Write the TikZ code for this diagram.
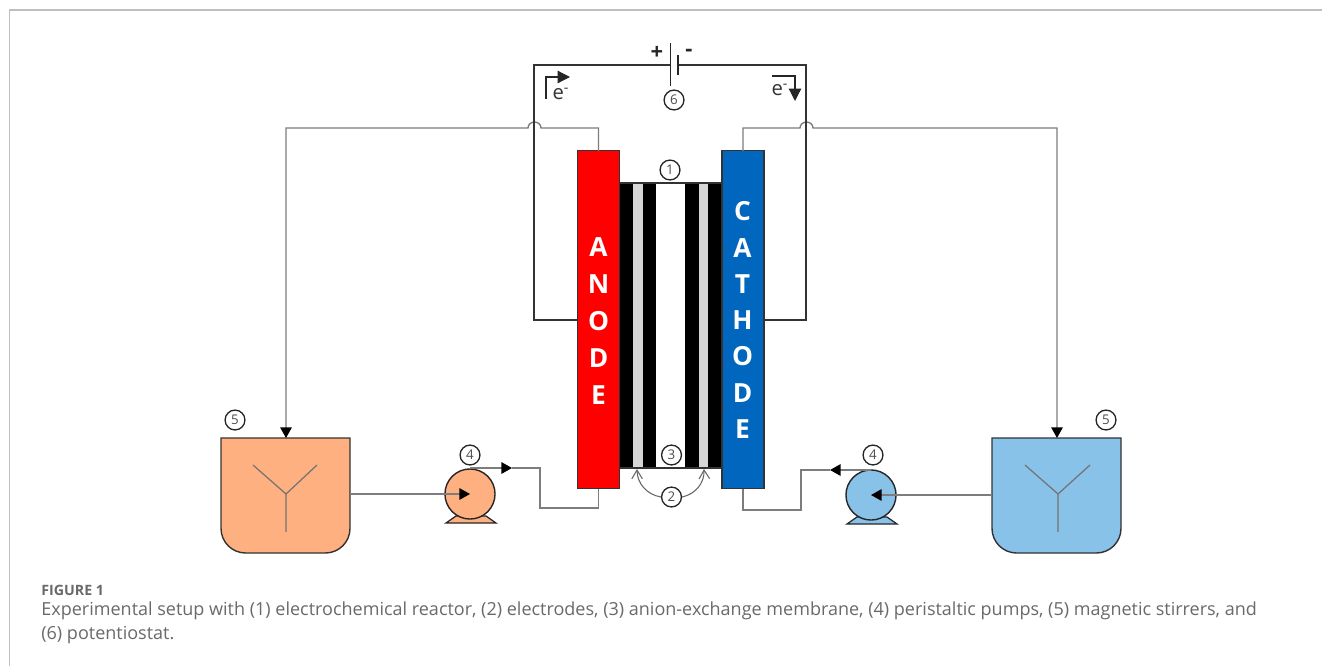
\documentclass[tikz,border=0pt]{standalone}
\usepackage{fontspec}
\setmainfont{Open Sans}
\usetikzlibrary{arrows.meta, positioning, calc}
\definecolor{anodered}{RGB}{255,0,0}
\definecolor{cathodeblue}{RGB}{0,102,190}
\definecolor{tankorange}{RGB}{255,176,128}
\definecolor{tankblue}{RGB}{136,194,232}
\definecolor{membranegray}{RGB}{214,214,214}
\definecolor{tubegray}{RGB}{125,125,125}
\definecolor{captiongray}{RGB}{105,105,105}
\tikzset{
    tube/.style={draw=tubegray, line width=0.8pt},
    wire/.style={draw=black!80, line width=0.8pt},
    flow/.style={-{Triangle[length=6pt,width=6.5pt,color=black]}},
    numlabel/.style={circle, draw=black!85, line width=0.75pt, minimum size=11.3pt, inner sep=0pt, font=\fontsize{7.6}{8}\selectfont, text=black!70},
    electrode/.style={draw=black!80, line width=0.7pt, minimum width=24pt, minimum height=192pt, inner sep=0pt},
    tank/.style={draw=black!80, line width=0.8pt},
    stirrer/.style={draw=black!55, line width=0.7pt},
    pump/.style={circle, draw=black!85, line width=0.8pt, minimum size=28.5pt, inner sep=0pt},
    bigletter/.style={text=white, font=\fontsize{15}{15}\bfseries\selectfont},
    elabel/.style={font=\fontsize{11.5}{12}\selectfont, text=black!80},
    polarity/.style={font=\fontsize{12.5}{13}\bfseries\selectfont, text=black!85},
}
\begin{document}
\begin{tikzpicture}[x=0.02cm, y=-0.02cm]
    \useasboundingbox (0,0) rectangle (1322,666);
    % page frame
    \draw[black!25, line width=0.6pt] (9.5,666) -- (9.5,10) -- (1322,10);

    % reactor stack
    \fill[black] (620,183) rectangle (656,468);
    \fill[black] (685,183) rectangle (722,468);
    \fill[membranegray] (633,183) rectangle (642.5,468);
    \fill[membranegray] (698.5,183) rectangle (708,468);
    \draw[black!80, line width=0.6pt] (620,183) -- (722,183);
    \draw[black!80, line width=0.6pt] (620,468) -- (722,468);
    \node[electrode, fill=anodered] (anode) at (598.5,319.5) {};
    \node[electrode, fill=cathodeblue] (cathode) at (743,319.5) {};

    % letters on the electrodes
    \foreach \letter [count=\i] in {A,N,O,D,E}
        \node[bigletter] at (598.5,{210+\i*37}) {\letter};
    \foreach \letter [count=\i] in {C,A,T,H,O,D,E}
        \node[bigletter] at (742.5,{175+\i*36.3}) {\letter};

    % tanks
    \draw[tank, fill=tankorange] (221,438) -- (350,438) [rounded corners=14pt] -- (350,553) -- (221,553) [sharp corners] -- cycle;
    \draw[tank, fill=tankblue] (992,438) -- (1121,438) [rounded corners=14pt] -- (1121,553) -- (992,553) [sharp corners] -- cycle;
    \coordinate (tankleft) at (286,438);
    \coordinate (tankright) at (1057,438);
    \draw[stirrer] (253,465) -- (286,494) -- (317,465) (286,494) -- (286,532);
    \draw[stirrer] (1025,465) -- (1058,494) -- (1090,465) (1058,494) -- (1058,532);

    % pumps
    \filldraw[fill=tankorange, draw=black!85, line width=0.7pt] (446,523) -- (456,516) -- (486,516) -- (496,523) -- cycle;
    \filldraw[fill=tankblue, draw=black!85, line width=0.7pt] (847,524) -- (857,517) -- (887,517) -- (897,524) -- cycle;
    \node[pump, fill=tankorange] (pumpleft) at (470,494) {};
    \node[pump, fill=tankblue] (pumpright) at (871,495) {};

    % tubing
    \draw[tube, flow] (350,494) -- (pumpleft.center);
    \draw[tube, flow] (470,468) -- (512,468);
    \draw[tube] (512,468) -- (540,468) -- (540,508) -- (598.5,508) -- (598.5,489);
    \draw[tube, flow] (992,495) -- (pumpright.center);
    \draw[tube, flow] (871,470) -- (830,470);
    \draw[tube] (830,470) -- (801,470) -- (801,510) -- (743,510) -- (743,489);
    \draw[tube, flow] (598.5,151) -- (598.5,128) -- (541,128) arc (0:-180:6.5 and 6) -- (286,128) -- (tankleft);
    \draw[tube, flow] (743,151) -- (743,128) -- (800,128) arc (180:360:6.5 and 6) -- (1057,128) -- (tankright);

    % potentiostat circuit
    \draw[wire] (577,320) -- (534,320) -- (534,65) -- (670,65);
    \draw[wire] (764,320) -- (806,320) -- (806,65) -- (678,65);
    \draw[black!85, line width=1.1pt] (670.5,43) -- (670.5,86);
    \draw[black!85, line width=1.2pt] (678,55) -- (678,75);
    \node[polarity] at (657,53) {+};
    \node[polarity] at (689,53) {-};

    % electron arrows
    \draw[black!85, line width=0.7pt, -{Triangle[length=7pt,width=7pt]}] (546,99) -- (546,77) -- (570,77);
    \node[elabel] at (561,94) {e\textsuperscript{-}};
    \draw[black!85, line width=0.7pt, -{Triangle[length=7pt,width=7pt]}] (772,76) -- (795,76) -- (795,101);
    \node[elabel] at (780,90) {e\textsuperscript{-}};

    % numbered labels
    \node[numlabel] (six) at (674,100) {6};
    \node[numlabel] (one) at (670,170) {1};
    \node[numlabel] (three) at (671.5,455) {3};
    \node[numlabel] (two) at (671.5,497) {2};
    \node[numlabel] (fourleft) at (470,455) {4};
    \node[numlabel] (fourright) at (873,455) {4};
    \node[numlabel] (fiveleft) at (235,420) {5};
    \node[numlabel] (fiveright) at (1106,420) {5};

    % electrode pointers
    \draw[black!60, line width=0.6pt, -{Straight Barb[length=5pt,width=6pt]}] (two.west) to[bend left=40] (637,469);
    \draw[black!60, line width=0.6pt, -{Straight Barb[length=5pt,width=6pt]}] (two.east) to[bend right=40] (704,469);

    % caption
    \node[anchor=base west, inner sep=0pt, text=captiongray, font=\fontsize{8.1}{9}\bfseries\selectfont] at (41,595) {FIGURE 1};
    \node[anchor=base west, inner sep=0pt, text=captiongray, font=\fontsize{10.25}{11}\selectfont] at (41,615) {Experimental setup with (1) electrochemical reactor, (2) electrodes, (3) anion-exchange membrane, (4) peristaltic pumps, (5) magnetic stirrers, and};
    \node[anchor=base west, inner sep=0pt, text=captiongray, font=\fontsize{10.25}{11}\selectfont] at (41,639) {(6) potentiostat.};
\end{tikzpicture}
\end{document}
